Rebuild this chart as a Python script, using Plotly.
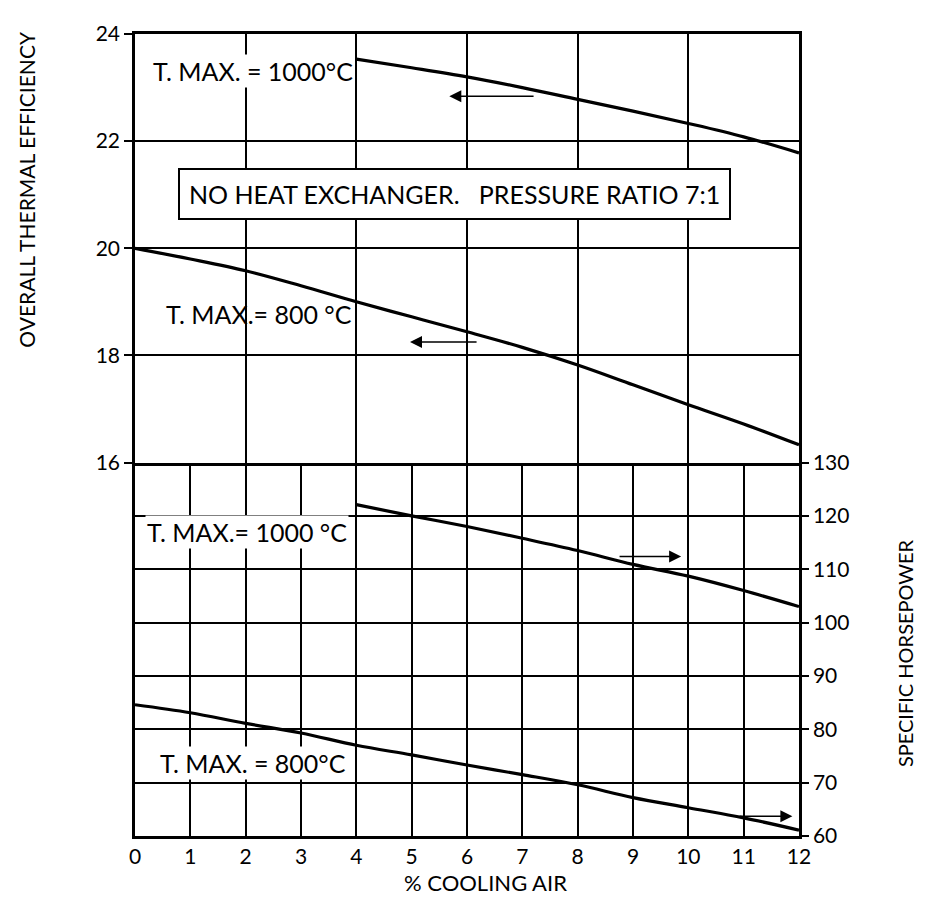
import plotly.graph_objects as go

# ---------------- data ----------------
cooling_eff_1000 = [4, 5, 6, 7, 8, 9, 10, 11, 12]
eff_1000 = [23.53, 23.37, 23.20, 23.00, 22.78, 22.56, 22.33, 22.08, 21.78]

cooling_eff_800 = [0, 1, 2, 3, 4, 5, 6, 7, 8, 9, 10, 11, 12]
eff_800 = [20.0, 19.80, 19.58, 19.30, 19.00, 18.72, 18.44, 18.15, 17.82, 17.45, 17.08, 16.72, 16.33]

cooling_shp_1000 = [4, 5, 6, 7, 8, 9, 10, 11, 12]
shp_1000 = [122.1, 120.0, 118.0, 115.8, 113.5, 110.9, 108.7, 106.0, 103.0]

cooling_shp_800 = [0, 1, 2, 3, 4, 5, 6, 7, 8, 9, 10, 11, 12]
shp_800 = [84.6, 83.1, 81.1, 79.3, 77.0, 75.2, 73.3, 71.5, 69.6, 67.2, 65.3, 63.4, 61.1]

x_ticks = list(range(0, 13))
eff_ticks = [16, 18, 20, 22, 24]
shp_ticks = [60, 70, 80, 90, 100, 110, 120, 130]

FONT = "Lato"
LINE = dict(color="black", width=3.2)

fig = go.Figure()
fig.add_trace(go.Scatter(x=cooling_eff_1000, y=eff_1000, xaxis="x2", yaxis="y2",
                         mode="lines", line=LINE, line_shape="spline", showlegend=False))
fig.add_trace(go.Scatter(x=cooling_eff_800, y=eff_800, xaxis="x2", yaxis="y2",
                         mode="lines", line=LINE, line_shape="spline", showlegend=False))
fig.add_trace(go.Scatter(x=cooling_shp_1000, y=shp_1000, xaxis="x", yaxis="y",
                         mode="lines", line=LINE, line_shape="spline", showlegend=False))
fig.add_trace(go.Scatter(x=cooling_shp_800, y=shp_800, xaxis="x", yaxis="y",
                         mode="lines", line=LINE, line_shape="spline", showlegend=False))

split = 0.4657
grid = dict(showgrid=True, gridcolor="black", gridwidth=1.5, zeroline=False)

# page body adds an 8px margin, so the figure is sized to fit inside the window
fig.update_layout(
    width=932, height=891,
    margin=dict(l=127, r=141, t=12, b=63),
    paper_bgcolor="white", plot_bgcolor="white",
    font=dict(family=FONT, color="black", size=21),
    xaxis=dict(domain=[0, 1], anchor="y", range=[0, 12], tickvals=x_ticks,
               showline=True, linecolor="black", linewidth=2.5, mirror=False,
               ticks="", tickfont=dict(size=21), **grid),
    yaxis=dict(domain=[0, split], anchor="x", side="right", range=[60, 130],
               tickvals=shp_ticks, showline=True, linecolor="black", linewidth=2.5,
               mirror=True, ticks="outside", ticklen=7, tickcolor="black", tickwidth=1.5,
               tickfont=dict(size=21), **grid),
    xaxis2=dict(domain=[0, 1], anchor="y2", range=[0, 12], tickvals=x_ticks[::2],
                showticklabels=False, showline=True, linecolor="black", linewidth=2.5,
                mirror=True, ticks="", **grid),
    yaxis2=dict(domain=[split, 1], anchor="x2", range=[16, 24], tickvals=eff_ticks,
                showline=True, linecolor="black", linewidth=2.5, mirror=True,
                ticks="outside", ticklen=8, tickcolor="black", tickwidth=1.5,
                tickfont=dict(size=21), **grid),
)

ann = []
def label(text, x, y, xref, yref, size=25, bg="white"):
    ann.append(dict(text=text, x=x, y=y, xref=xref, yref=yref, showarrow=False,
                    xanchor="center", yanchor="middle",
                    font=dict(size=size, family=FONT), bgcolor=bg, borderpad=1))

label("T. MAX. = 1000°C", 2.13, 23.30, "x2", "y2")
label("T. MAX.= 800 °C", 2.24, 18.77, "x2", "y2", bg="rgba(0,0,0,0)")
label("T. MAX.= 1000 °C", 2.02, 116.9, "x", "y")
label("T. MAX. = 800°C", 2.14, 73.6, "x", "y")

ann.append(dict(text="NO HEAT EXCHANGER.&nbsp;&nbsp;&nbsp;PRESSURE RATIO 7:1", x=5.78, y=21.01,
                xref="x2", yref="y2", showarrow=False, xanchor="center", yanchor="middle",
                font=dict(size=25, family=FONT),
                bgcolor="white", bordercolor="black", borderwidth=2, borderpad=9))

def arrow(x_head, x_tail, y, xref, yref):
    ann.append(dict(text="", x=x_head, y=y, ax=x_tail, ay=y, xref=xref, yref=yref,
                    axref=xref, ayref=yref, showarrow=True, arrowhead=2, arrowsize=1.6,
                    arrowwidth=1.5, arrowcolor="black"))

arrow(5.68, 7.23, 22.84, "x2", "y2")
arrow(4.97, 6.20, 18.25, "x2", "y2")
arrow(9.87, 8.73, 112.4, "x", "y")
arrow(11.88, 10.90, 63.7, "x", "y")

ann.append(dict(text="% COOLING AIR", x=0.5286, y=-0.0576, xref="paper", yref="paper",
                xanchor="center", yanchor="middle", borderpad=0,
                showarrow=False, font=dict(size=22, family=FONT)))
ann.append(dict(text="OVERALL THERMAL EFFICIENCY", x=-0.164, y=0.806, xref="paper", yref="paper",
                xanchor="center", yanchor="middle",
                showarrow=False, textangle=-90, font=dict(size=21, family=FONT)))
ann.append(dict(text="SPECIFIC HORSEPOWER", x=1.1596, y=0.228, xref="paper", yref="paper",
                xanchor="center", yanchor="middle",
                showarrow=False, textangle=-90, font=dict(size=20, family=FONT)))

fig.update_layout(annotations=ann)
fig.write_html("out.html")
